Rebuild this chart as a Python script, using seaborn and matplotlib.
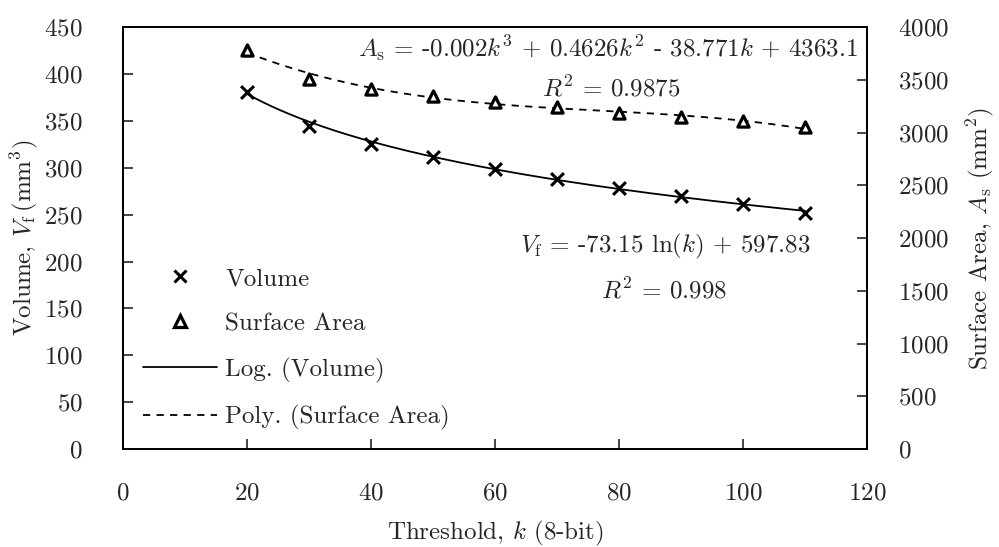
import numpy as np
import pandas as pd
import matplotlib
matplotlib.use("Agg")
import matplotlib.pyplot as plt
from matplotlib.lines import Line2D
import seaborn as sns

# Measured values per threshold
threshold = [20, 30, 40, 50, 60, 70, 80, 90, 100, 110]
volume = [381, 345, 325, 311, 299, 288, 278, 270, 261, 252]
surface_area = [3780, 3507, 3410, 3349, 3292, 3245, 3188, 3144, 3112, 3055]

# Trendline coefficients
log_coef = [-73.15, 597.83]                       # Vf = a ln(k) + b
poly_coef = [-0.002, 0.4626, -38.771, 4363.1]     # As = c3 k^3 + c2 k^2 + c1 k + c0

x_ticks = [0, 20, 40, 60, 80, 100, 120]
v_ticks = [0, 50, 100, 150, 200, 250, 300, 350, 400, 450]
a_ticks = [0, 500, 1000, 1500, 2000, 2500, 3000, 3500, 4000]

FS = 18

sns.set_style("ticks")
plt.rcParams.update({
    "font.family": ["cmr10", "DejaVu Serif"],
    "mathtext.fontset": "cm",
    "axes.formatter.use_mathtext": True,
    "font.size": FS,
    "axes.linewidth": 1.3,
    "axes.edgecolor": "black",
})

df = pd.DataFrame({"k": threshold, "V": volume, "A": surface_area})
kk = np.linspace(threshold[0], threshold[-1], 200)
fit = pd.DataFrame({
    "k": kk,
    "V": log_coef[0] * np.log(kk) + log_coef[1],
    "A": np.polyval(poly_coef, kk),
})

fig = plt.figure(figsize=(9.99, 5.47), dpi=100)
ax = fig.add_axes([0.1231, 0.179, 0.7448, 0.7716])
ax2 = ax.twinx()

sns.scatterplot(data=df, x="k", y="V", ax=ax, marker="x", s=85, color="black",
                linewidth=2.2, zorder=3, legend=False)
sns.scatterplot(data=df, x="k", y="A", ax=ax2, marker="^", s=65, facecolor="white",
                edgecolor="black", linewidth=2.3, zorder=3, legend=False)
sns.lineplot(data=fit, x="k", y="V", ax=ax, color="black", linewidth=1.3)
sns.lineplot(data=fit, x="k", y="A", ax=ax2, color="black", linewidth=1.3,
             linestyle=(0, (4, 3.5)))

ax.set_xlim(0, 120)
ax.set_ylim(0, 450)
ax2.set_ylim(0, 4000)
ax.set_xticks(x_ticks)
ax.set_yticks(v_ticks)
ax2.set_yticks(a_ticks)

ax.tick_params(axis="x", direction="in", length=7, width=1.2, pad=24, top=False)
ax.tick_params(axis="y", direction="in", length=7, width=1.2, pad=29, right=False)
ax2.tick_params(axis="y", direction="in", length=7, width=1.2, pad=22)

ax.set_xlabel(r"Threshold, $k$ (8-bit)", labelpad=10)
ax.set_ylabel(r"Volume, $V_{\mathrm{f}}\,(\mathrm{mm}^3)$", labelpad=3)
ax2.set_ylabel(r"Surface Area, $A_{\mathrm{s}}$ (mm$^2$)", labelpad=11)

for a in (ax, ax2):
    for s in a.spines.values():
        s.set_visible(True)
        s.set_linewidth(1.3)

# Trendline equations
ax2.text(118.5, 3800, r"$A_{\mathrm{s}}$ = -0.002$k^3$ + 0.4626$k^2$ - 38.771$k$ + 4363.1",
         ha="right", va="center", fontsize=FS)
ax2.text(78.7, 3420, r"$R^2$ = 0.9875", ha="center", va="center", fontsize=FS)
ax.text(87.4, 216, r"$V_{\mathrm{f}}$ = -73.15 ln($k$) + 597.83",
        ha="center", va="center", fontsize=FS)
ax.text(87.3, 169.5, r"$R^2$ = 0.998", ha="center", va="center", fontsize=FS)

# Legend with markers and trendline styles
handles = [
    Line2D([], [], marker="x", color="black", linestyle="none", markersize=9, mew=2.2),
    Line2D([], [], marker="^", markerfacecolor="white", markeredgecolor="black",
           linestyle="none", markersize=8, mew=2.3),
    Line2D([], [], color="black", linewidth=1.3),
    Line2D([], [], color="black", linewidth=1.3, linestyle=(0, (4, 3.5))),
]
labels = ["Volume", "Surface Area", "Log. (Volume)", "Poly. (Surface Area)"]
ax2.legend(handles, labels, loc="upper left", bbox_to_anchor=(0.027, 0.43),
           frameon=False, borderpad=0, borderaxespad=0, handlelength=2.96,
           handletextpad=0.32, labelspacing=0.9, fontsize=FS)

fig.savefig("out.png", dpi=100)
